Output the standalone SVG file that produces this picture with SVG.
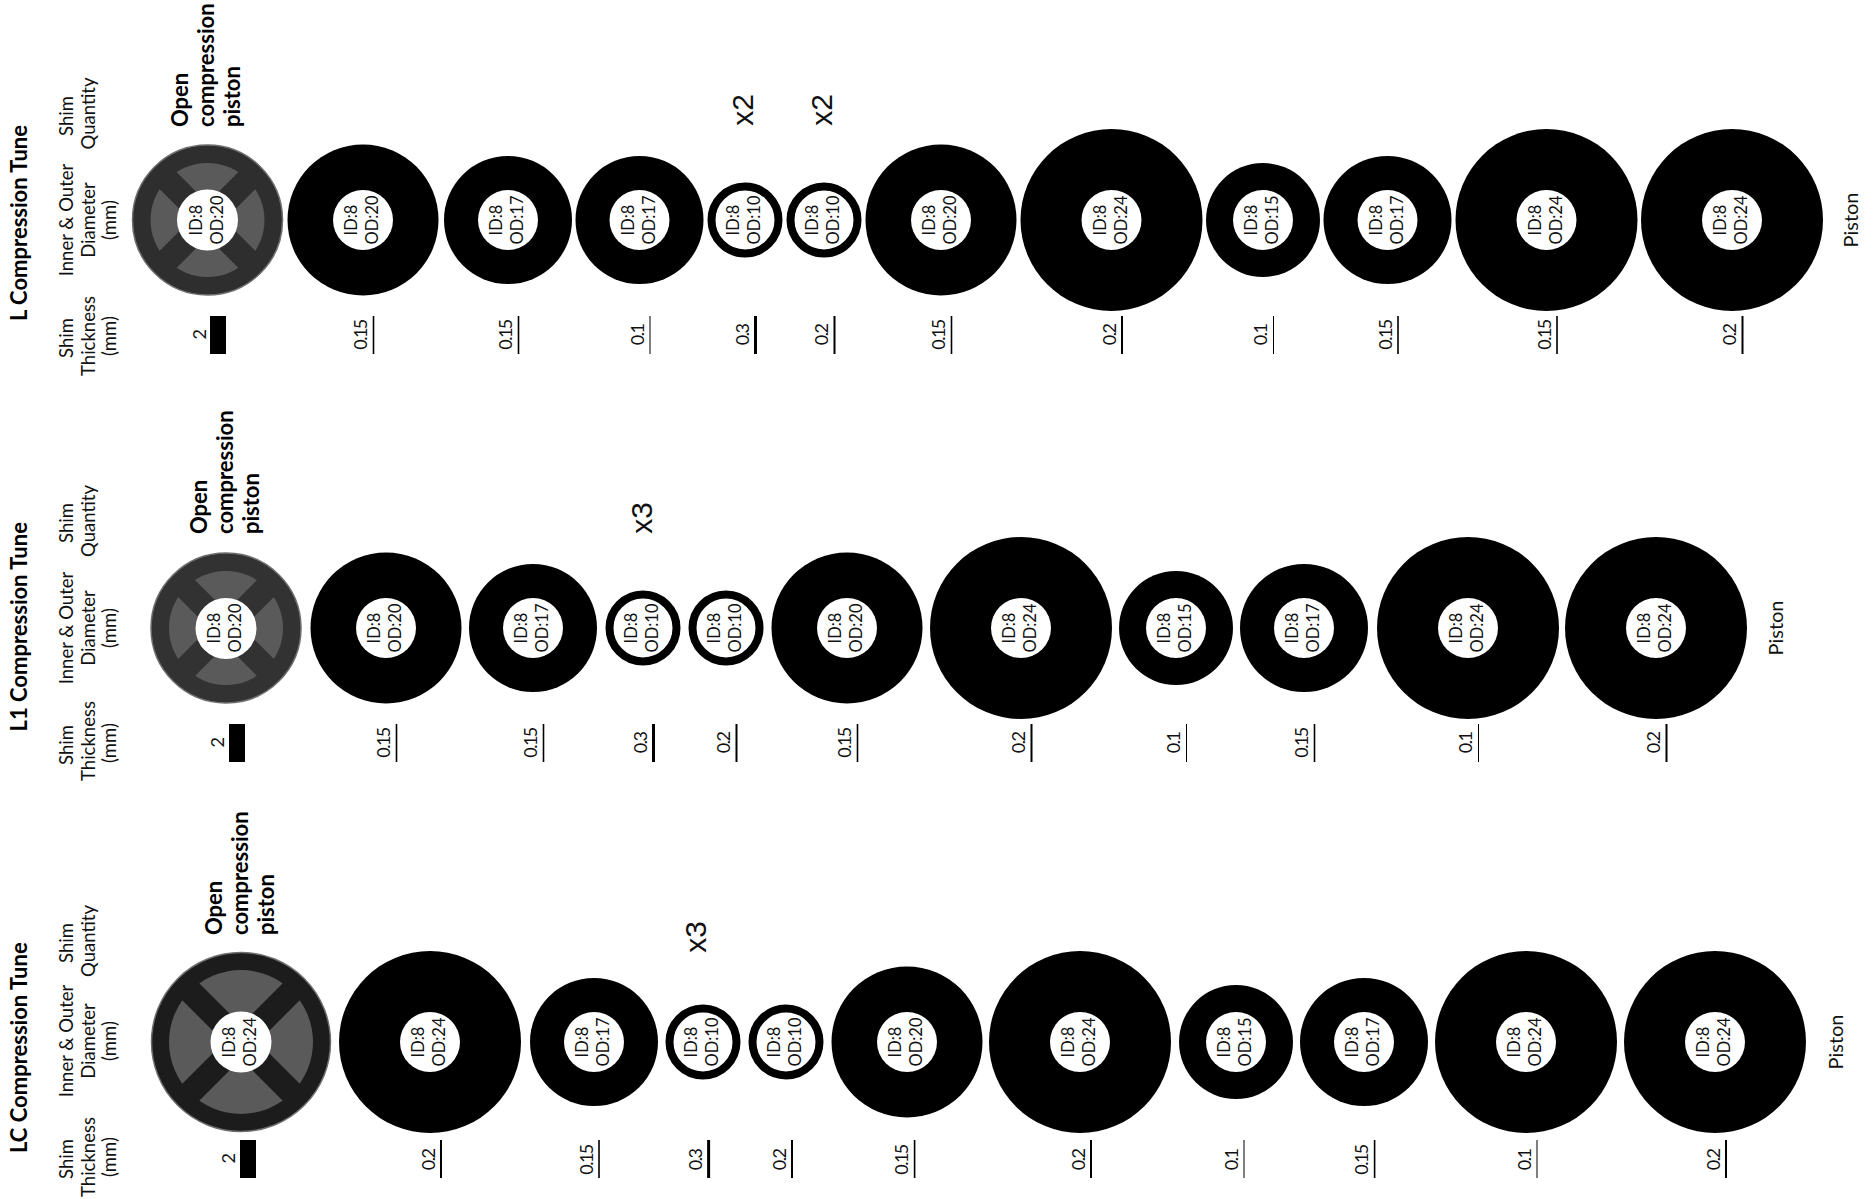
<svg xmlns="http://www.w3.org/2000/svg" width="1874" height="1199" viewBox="0 0 1874 1199">
<style>
text{font-family:"Lato","Liberation Sans",sans-serif;fill:#111}
.h{font-size:22px;font-weight:700;fill:#000}
.l{font-size:18.5px;text-anchor:middle}
.p{font-size:20px;text-anchor:middle}
.b{font-size:22px;font-weight:700;fill:#000}
.t{font-size:16.5px;text-anchor:middle}
.s{font-size:18px;text-anchor:middle;letter-spacing:-1.5px}
.q{font-family:"Liberation Sans",sans-serif;font-size:30px;text-anchor:middle}
.k{fill:#000}.w{fill:#fff}.g{fill:#5a5a5a}
.r{fill:none;stroke:#000;stroke-width:8px}
.rim{stroke:#6e6e6e;stroke-width:1.5px}
</style>
<defs>
<filter id="soft" x="-5%" y="-5%" width="110%" height="110%"><feGaussianBlur stdDeviation="0.7"/></filter>
</defs>
<rect width="1874" height="1199" fill="#fff"/>
<g id="connectors"/>

<g id="row1-labels">
<text class="h" transform="translate(27 321) rotate(-90)">L Compression Tune</text>
<text class="l" transform="translate(73 116) rotate(-90)">Shim</text>
<text class="l" transform="translate(95 113.5) rotate(-90)">Quantity</text>
<text class="l" transform="translate(73 220) rotate(-90)">Inner &amp; Outer</text>
<text class="l" transform="translate(95 220) rotate(-90)">Diameter</text>
<text class="l" transform="translate(116 220) rotate(-90)">(mm)</text>
<text class="l" transform="translate(73 338) rotate(-90)">Shim</text>
<text class="l" transform="translate(95 336) rotate(-90)">Thickness</text>
<text class="l" transform="translate(116 336) rotate(-90)">(mm)</text>
<text class="b" transform="translate(188 127) rotate(-90)">Open</text>
<text class="b" transform="translate(214 127) rotate(-90)">compression</text>
<text class="b" transform="translate(240 127) rotate(-90)">piston</text>
<text class="q" transform="translate(753 110) rotate(-90)">x2</text>
<text class="q" transform="translate(832 110) rotate(-90)">x2</text>
<text class="p" transform="translate(1858 220) rotate(-90)">Piston</text>
</g>
<g id="row1-piston" transform="translate(207.5 220)">
<g filter="url(#soft)">
<circle r="75" fill="#2e2e2e" class="rim"/>
<circle r="57" class="g"/>
<g stroke="#2e2e2e" stroke-width="24"><line x1="-46" y1="-46" x2="46" y2="46"/><line x1="-46" y1="46" x2="46" y2="-46"/></g>
</g>
<circle r="30.5" class="w"/>
<text class="t" transform="translate(-6 0) rotate(-90)">ID:8</text>
<text class="t" transform="translate(15 0) rotate(-90)">OD:20</text>
<rect x="2.5" y="96" width="16" height="38" class="k"/>
<text class="s" transform="translate(-1.5 115) rotate(-90)">2</text>
</g>
<g id="row1-d1" transform="translate(363 220)"><circle r="75.5" class="k"/><circle r="30" class="w"/><text class="t" transform="translate(-6 0) rotate(-90)">ID:8</text><text class="t" transform="translate(15 0) rotate(-90)">OD:20</text><rect x="9.7" y="96" width="1.6" height="38" class="k"/><text class="s" transform="translate(4 115) rotate(-90)">0.15</text></g>
<g id="row1-d2" transform="translate(508 220)"><circle r="64" class="k"/><circle r="30" class="w"/><text class="t" transform="translate(-6 0) rotate(-90)">ID:8</text><text class="t" transform="translate(15 0) rotate(-90)">OD:17</text><rect x="9.7" y="96" width="1.6" height="38" class="k"/><text class="s" transform="translate(4 115) rotate(-90)">0.15</text></g>
<g id="row1-d3" transform="translate(639.5 220)"><circle r="64" class="k"/><circle r="30" class="w"/><text class="t" transform="translate(-6 0) rotate(-90)">ID:8</text><text class="t" transform="translate(15 0) rotate(-90)">OD:17</text><rect x="10" y="96" width="1" height="38" class="k"/><text class="s" transform="translate(4 115) rotate(-90)">0.1</text></g>
<g id="row1-d4" transform="translate(745 220)"><circle r="33.5" class="r"/><text class="t" transform="translate(-6 0) rotate(-90)">ID:8</text><text class="t" transform="translate(15 0) rotate(-90)">OD:10</text><rect x="9" y="96" width="3" height="38" class="k"/><text class="s" transform="translate(4 115) rotate(-90)">0.3</text></g>
<g id="row1-d5" transform="translate(824 220)"><circle r="33.5" class="r"/><text class="t" transform="translate(-6 0) rotate(-90)">ID:8</text><text class="t" transform="translate(15 0) rotate(-90)">OD:10</text><rect x="9.5" y="96" width="2" height="38" class="k"/><text class="s" transform="translate(4 115) rotate(-90)">0.2</text></g>
<g id="row1-d6" transform="translate(941 220)"><circle r="75.5" class="k"/><circle r="30" class="w"/><text class="t" transform="translate(-6 0) rotate(-90)">ID:8</text><text class="t" transform="translate(15 0) rotate(-90)">OD:20</text><rect x="9.7" y="96" width="1.6" height="38" class="k"/><text class="s" transform="translate(4 115) rotate(-90)">0.15</text></g>
<g id="row1-d7" transform="translate(1111.5 220)"><circle r="91" class="k"/><circle r="30" class="w"/><text class="t" transform="translate(-6 0) rotate(-90)">ID:8</text><text class="t" transform="translate(15 0) rotate(-90)">OD:24</text><rect x="9.5" y="96" width="2" height="38" class="k"/><text class="s" transform="translate(4 115) rotate(-90)">0.2</text></g>
<g id="row1-d8" transform="translate(1263 220)"><circle r="57" class="k"/><circle r="30" class="w"/><text class="t" transform="translate(-6 0) rotate(-90)">ID:8</text><text class="t" transform="translate(15 0) rotate(-90)">OD:15</text><rect x="10" y="96" width="1" height="38" class="k"/><text class="s" transform="translate(4 115) rotate(-90)">0.1</text></g>
<g id="row1-d9" transform="translate(1387.5 220)"><circle r="64" class="k"/><circle r="30" class="w"/><text class="t" transform="translate(-6 0) rotate(-90)">ID:8</text><text class="t" transform="translate(15 0) rotate(-90)">OD:17</text><rect x="9.7" y="96" width="1.6" height="38" class="k"/><text class="s" transform="translate(4 115) rotate(-90)">0.15</text></g>
<g id="row1-d10" transform="translate(1546.5 220)"><circle r="91" class="k"/><circle r="30" class="w"/><text class="t" transform="translate(-6 0) rotate(-90)">ID:8</text><text class="t" transform="translate(15 0) rotate(-90)">OD:24</text><rect x="9.7" y="96" width="1.6" height="38" class="k"/><text class="s" transform="translate(4 115) rotate(-90)">0.15</text></g>
<g id="row1-d11" transform="translate(1732 220)"><circle r="91" class="k"/><circle r="30" class="w"/><text class="t" transform="translate(-6 0) rotate(-90)">ID:8</text><text class="t" transform="translate(15 0) rotate(-90)">OD:24</text><rect x="9.5" y="96" width="2" height="38" class="k"/><text class="s" transform="translate(4 115) rotate(-90)">0.2</text></g>

<g id="row2-labels">
<text class="h" transform="translate(27 731.5) rotate(-90)">L1 Compression Tune</text>
<text class="l" transform="translate(73 523) rotate(-90)">Shim</text>
<text class="l" transform="translate(95 521) rotate(-90)">Quantity</text>
<text class="l" transform="translate(73 628) rotate(-90)">Inner &amp; Outer</text>
<text class="l" transform="translate(95 628) rotate(-90)">Diameter</text>
<text class="l" transform="translate(116 628) rotate(-90)">(mm)</text>
<text class="l" transform="translate(73 745) rotate(-90)">Shim</text>
<text class="l" transform="translate(95 741) rotate(-90)">Thickness</text>
<text class="l" transform="translate(116 743) rotate(-90)">(mm)</text>
<text class="b" transform="translate(207 534) rotate(-90)">Open</text>
<text class="b" transform="translate(233 534) rotate(-90)">compression</text>
<text class="b" transform="translate(259 534) rotate(-90)">piston</text>
<text class="q" transform="translate(652 518) rotate(-90)">x3</text>
<text class="p" transform="translate(1783 628) rotate(-90)">Piston</text>
</g>
<g id="row2-piston" transform="translate(226 628)">
<g filter="url(#soft)">
<circle r="75" fill="#333" class="rim"/>
<circle r="57" class="g"/>
<g stroke="#333" stroke-width="24"><line x1="-46" y1="-46" x2="46" y2="46"/><line x1="-46" y1="46" x2="46" y2="-46"/></g>
</g>
<circle cy="0.5" r="30.5" class="w"/>
<text class="t" transform="translate(-6 0) rotate(-90)">ID:8</text>
<text class="t" transform="translate(15 0) rotate(-90)">OD:20</text>
<rect x="3" y="96" width="16" height="38" class="k"/>
<text class="s" transform="translate(-2 115) rotate(-90)">2</text>
</g>
<g id="row2-d1" transform="translate(386 628)"><circle r="75.5" class="k"/><circle r="30" class="w"/><text class="t" transform="translate(-6 0) rotate(-90)">ID:8</text><text class="t" transform="translate(15 0) rotate(-90)">OD:20</text><rect x="9.7" y="96" width="1.6" height="38" class="k"/><text class="s" transform="translate(4 115) rotate(-90)">0.15</text></g>
<g id="row2-d2" transform="translate(533 628)"><circle r="64" class="k"/><circle r="30" class="w"/><text class="t" transform="translate(-6 0) rotate(-90)">ID:8</text><text class="t" transform="translate(15 0) rotate(-90)">OD:17</text><rect x="9.7" y="96" width="1.6" height="38" class="k"/><text class="s" transform="translate(4 115) rotate(-90)">0.15</text></g>
<g id="row2-d3" transform="translate(643 628)"><circle r="33.5" class="r"/><text class="t" transform="translate(-6 0) rotate(-90)">ID:8</text><text class="t" transform="translate(15 0) rotate(-90)">OD:10</text><rect x="9" y="96" width="3" height="38" class="k"/><text class="s" transform="translate(4 115) rotate(-90)">0.3</text></g>
<g id="row2-d4" transform="translate(726 628)"><circle r="33.5" class="r"/><text class="t" transform="translate(-6 0) rotate(-90)">ID:8</text><text class="t" transform="translate(15 0) rotate(-90)">OD:10</text><rect x="9.5" y="96" width="2" height="38" class="k"/><text class="s" transform="translate(4 115) rotate(-90)">0.2</text></g>
<g id="row2-d5" transform="translate(847 628)"><circle r="75.5" class="k"/><circle r="30" class="w"/><text class="t" transform="translate(-6 0) rotate(-90)">ID:8</text><text class="t" transform="translate(15 0) rotate(-90)">OD:20</text><rect x="9.7" y="96" width="1.6" height="38" class="k"/><text class="s" transform="translate(4 115) rotate(-90)">0.15</text></g>
<g id="row2-d6" transform="translate(1021 628)"><circle r="91" class="k"/><circle r="30" class="w"/><text class="t" transform="translate(-6 0) rotate(-90)">ID:8</text><text class="t" transform="translate(15 0) rotate(-90)">OD:24</text><rect x="9.5" y="96" width="2" height="38" class="k"/><text class="s" transform="translate(4 115) rotate(-90)">0.2</text></g>
<g id="row2-d7" transform="translate(1176 628)"><circle r="57" class="k"/><circle r="30" class="w"/><text class="t" transform="translate(-6 0) rotate(-90)">ID:8</text><text class="t" transform="translate(15 0) rotate(-90)">OD:15</text><rect x="10" y="96" width="1" height="38" class="k"/><text class="s" transform="translate(4 115) rotate(-90)">0.1</text></g>
<g id="row2-d8" transform="translate(1304 628)"><circle r="64" class="k"/><circle r="30" class="w"/><text class="t" transform="translate(-6 0) rotate(-90)">ID:8</text><text class="t" transform="translate(15 0) rotate(-90)">OD:17</text><rect x="9.7" y="96" width="1.6" height="38" class="k"/><text class="s" transform="translate(4 115) rotate(-90)">0.15</text></g>
<g id="row2-d9" transform="translate(1468 628)"><circle r="91" class="k"/><circle r="30" class="w"/><text class="t" transform="translate(-6 0) rotate(-90)">ID:8</text><text class="t" transform="translate(15 0) rotate(-90)">OD:24</text><rect x="10" y="96" width="1" height="38" class="k"/><text class="s" transform="translate(4 115) rotate(-90)">0.1</text></g>
<g id="row2-d10" transform="translate(1656 628)"><circle r="91" class="k"/><circle r="30" class="w"/><text class="t" transform="translate(-6 0) rotate(-90)">ID:8</text><text class="t" transform="translate(15 0) rotate(-90)">OD:24</text><rect x="9.5" y="96" width="2" height="38" class="k"/><text class="s" transform="translate(4 115) rotate(-90)">0.2</text></g>

<g id="row3-labels">
<text class="h" transform="translate(27 1153) rotate(-90)">LC Compression Tune</text>
<text class="l" transform="translate(73 943) rotate(-90)">Shim</text>
<text class="l" transform="translate(95 941) rotate(-90)">Quantity</text>
<text class="l" transform="translate(73 1041) rotate(-90)">Inner &amp; Outer</text>
<text class="l" transform="translate(95 1041) rotate(-90)">Diameter</text>
<text class="l" transform="translate(116 1041) rotate(-90)">(mm)</text>
<text class="l" transform="translate(73 1159) rotate(-90)">Shim</text>
<text class="l" transform="translate(95 1157) rotate(-90)">Thickness</text>
<text class="l" transform="translate(116 1157) rotate(-90)">(mm)</text>
<text class="b" transform="translate(222 935) rotate(-90)">Open</text>
<text class="b" transform="translate(248 935) rotate(-90)">compression</text>
<text class="b" transform="translate(274 935) rotate(-90)">piston</text>
<text class="q" transform="translate(706 937) rotate(-90)">x3</text>
<text class="p" transform="translate(1843 1042) rotate(-90)">Piston</text>
</g>
<g id="row3-piston" transform="translate(241 1042)">
<g filter="url(#soft)">
<circle r="89.5" fill="#1c1c1e" class="rim"/>
<circle r="72" class="g"/>
<g stroke="#1c1c1e" stroke-width="24"><line x1="-56" y1="-56" x2="56" y2="56"/><line x1="-56" y1="56" x2="56" y2="-56"/></g>
</g>
<circle r="30.5" class="w"/>
<text class="t" transform="translate(-6 0) rotate(-90)">ID:8</text>
<text class="t" transform="translate(15 0) rotate(-90)">OD:24</text>
<rect x="-1" y="98" width="16" height="38" class="k"/>
<text class="s" transform="translate(-6 117) rotate(-90)">2</text>
</g>
<g id="row3-d1" transform="translate(430 1042)"><circle r="91" class="k"/><circle r="30" class="w"/><text class="t" transform="translate(-6 0) rotate(-90)">ID:8</text><text class="t" transform="translate(15 0) rotate(-90)">OD:24</text><rect x="10" y="98" width="2" height="38" class="k"/><text class="s" transform="translate(4.5 118) rotate(-90)">0.2</text></g>
<g id="row3-d2" transform="translate(594 1042)"><circle r="64" class="k"/><circle r="30" class="w"/><text class="t" transform="translate(-6 0) rotate(-90)">ID:8</text><text class="t" transform="translate(15 0) rotate(-90)">OD:17</text><rect x="4.2" y="98" width="1.6" height="38" class="k"/><text class="s" transform="translate(-1.5 118) rotate(-90)">0.15</text></g>
<g id="row3-d3" transform="translate(703 1042)"><circle r="33.5" class="r"/><text class="t" transform="translate(-6 0) rotate(-90)">ID:8</text><text class="t" transform="translate(15 0) rotate(-90)">OD:10</text><rect x="4.1" y="98" width="3" height="38" class="k"/><text class="s" transform="translate(-1 118) rotate(-90)">0.3</text></g>
<g id="row3-d4" transform="translate(786 1042)"><circle r="33.5" class="r"/><text class="t" transform="translate(-6 0) rotate(-90)">ID:8</text><text class="t" transform="translate(15 0) rotate(-90)">OD:10</text><rect x="5" y="98" width="2" height="38" class="k"/><text class="s" transform="translate(-0.5 118) rotate(-90)">0.2</text></g>
<g id="row3-d5" transform="translate(907 1042)"><circle r="75.5" class="k"/><circle r="30" class="w"/><text class="t" transform="translate(-6 0) rotate(-90)">ID:8</text><text class="t" transform="translate(15 0) rotate(-90)">OD:20</text><rect x="6.8" y="98" width="1.6" height="38" class="k"/><text class="s" transform="translate(1 118) rotate(-90)">0.15</text></g>
<g id="row3-d6" transform="translate(1080 1042)"><circle r="91" class="k"/><circle r="30" class="w"/><text class="t" transform="translate(-6 0) rotate(-90)">ID:8</text><text class="t" transform="translate(15 0) rotate(-90)">OD:24</text><rect x="10" y="98" width="2" height="38" class="k"/><text class="s" transform="translate(4.5 118) rotate(-90)">0.2</text></g>
<g id="row3-d7" transform="translate(1236 1042)"><circle r="57" class="k"/><circle r="30" class="w"/><text class="t" transform="translate(-6 0) rotate(-90)">ID:8</text><text class="t" transform="translate(15 0) rotate(-90)">OD:15</text><rect x="7.5" y="98" width="1" height="38" class="k"/><text class="s" transform="translate(1.5 118) rotate(-90)">0.1</text></g>
<g id="row3-d8" transform="translate(1364 1042)"><circle r="64" class="k"/><circle r="30" class="w"/><text class="t" transform="translate(-6 0) rotate(-90)">ID:8</text><text class="t" transform="translate(15 0) rotate(-90)">OD:17</text><rect x="9.8" y="98" width="1.6" height="38" class="k"/><text class="s" transform="translate(4 118) rotate(-90)">0.15</text></g>
<g id="row3-d9" transform="translate(1526 1042)"><circle r="91" class="k"/><circle r="30" class="w"/><text class="t" transform="translate(-6 0) rotate(-90)">ID:8</text><text class="t" transform="translate(15 0) rotate(-90)">OD:24</text><rect x="10.5" y="98" width="1" height="38" class="k"/><text class="s" transform="translate(4.5 118) rotate(-90)">0.1</text></g>
<g id="row3-d10" transform="translate(1715 1042)"><circle r="91" class="k"/><circle r="30" class="w"/><text class="t" transform="translate(-6 0) rotate(-90)">ID:8</text><text class="t" transform="translate(15 0) rotate(-90)">OD:24</text><rect x="10" y="98" width="2" height="38" class="k"/><text class="s" transform="translate(4.5 118) rotate(-90)">0.2</text></g>
</svg>
